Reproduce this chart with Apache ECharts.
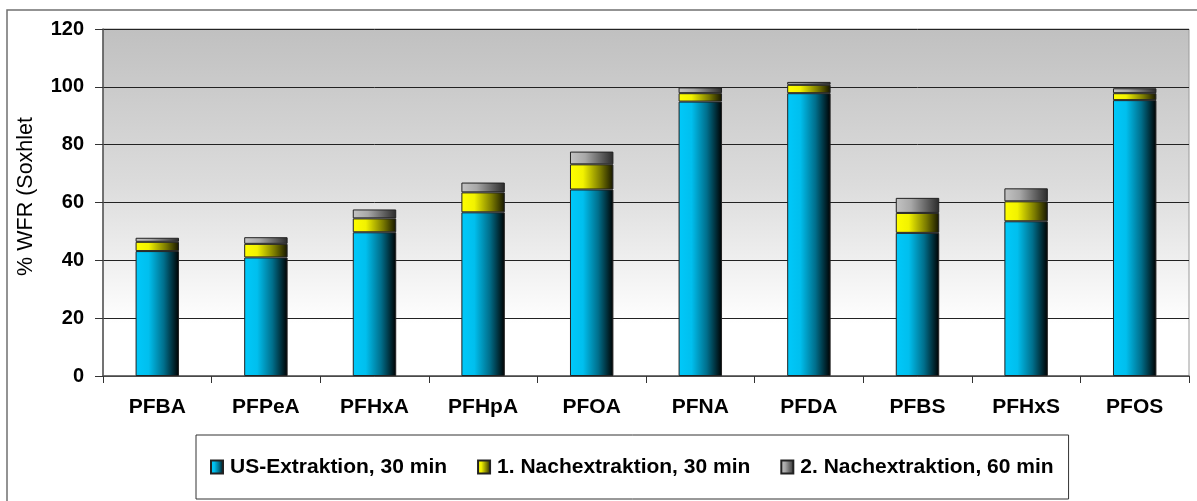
<!DOCTYPE html>
<html>
<head>
<meta charset="utf-8">
<script src="https://cdn.jsdelivr.net/npm/echarts@6/dist/echarts.min.js"></script>
<style>
  html, body { margin: 0; padding: 0; background: #fff; }
  #chart { width: 1197px; height: 501px; }
</style>
</head>
<body>
<div id="chart"></div>
<script>
// Substances on the category axis
const categories = ['PFBA', 'PFPeA', 'PFHxA', 'PFHpA', 'PFOA', 'PFNA', 'PFDA', 'PFBS', 'PFHxS', 'PFOS'];
// Recovery (% of Soxhlet) per extraction step, stacked
const usExtraktion = [43.2, 41.0, 49.7, 56.6, 64.5, 94.9, 97.8, 49.5, 53.5, 95.4];
const nachextraktion1 = [3.2, 4.7, 4.8, 6.9, 8.7, 2.9, 2.9, 6.9, 6.9, 2.4];
const nachextraktion2 = [1.4, 2.3, 3.1, 3.4, 4.4, 2.0, 1.0, 5.2, 4.5, 1.7];
const seriesNames = ['US-Extraktion, 30 min', '1. Nachextraktion, 30 min', '2. Nachextraktion, 60 min'];
const yTicks = { min: 0, max: 120, interval: 20 };
const yAxisTitle = '% WFR (Soxhlet';

const FONT = '"Liberation Sans", Arial, sans-serif';

function cylinder(stops) {
  return new echarts.graphic.LinearGradient(0, 0, 1, 0,
    stops.map(([offset, color]) => ({ offset, color })));
}

const blueFill = cylinder([[0, '#00c9fa'], [0.3, '#00bfee'], [0.65, '#006f8c'], [1, '#000000']]);
const yellowFill = cylinder([[0, '#ffff00'], [0.3, '#f2f200'], [0.7, '#7a7a00'], [1, '#141400']]);
const greyFill = cylinder([[0, '#c4c4c4'], [0.35, '#a8a8a8'], [0.75, '#5a5a5a'], [1, '#2a2a2a']]);

const chart = echarts.init(document.getElementById('chart'), null, { renderer: 'canvas' });

const barStyle = (fill) => ({ color: fill, borderColor: '#222', borderWidth: 1 });

chart.setOption({
  animation: false,
  backgroundColor: '#ffffff',
  graphic: [
    {
      // outer frame of the chart area
      type: 'rect',
      shape: { x: 7, y: 10, width: 1200, height: 500 },
      style: { fill: 'none', stroke: '#707070', lineWidth: 1.5 },
      z: -1
    },
    {
      type: 'text',
      left: 15, top: 117,
      rotation: Math.PI / 2,
      style: {
        text: yAxisTitle,
        font: '21.5px ' + FONT,
        fill: '#000'
      }
    }
  ],
  grid: {
    left: 103, right: 8, top: 29, bottom: 125,
    show: true,
    borderWidth: 1,
    borderColor: '#9a9a9a',
    backgroundColor: new echarts.graphic.LinearGradient(0, 0, 0, 1, [
      { offset: 0, color: '#c0c0c0' },
      { offset: 0.45, color: '#dcdcdc' },
      { offset: 0.85, color: '#ffffff' },
      { offset: 1, color: '#ffffff' }
    ])
  },
  legend: {
    data: seriesNames,
    left: 196, top: 435,
    padding: [20, 15, 20, 14],
    itemGap: 30,
    itemWidth: 12,
    itemHeight: 13,
    borderColor: '#333',
    borderWidth: 1,
    icon: 'rect',
    textStyle: {
      fontFamily: FONT,
      fontWeight: 'bold',
      fontSize: 21,
      lineHeight: 24,
      color: '#000',
      padding: [0, 0, 0, 2]
    }
  },
  xAxis: {
    type: 'category',
    data: categories,
    axisLine: { lineStyle: { color: '#555', width: 1.5 } },
    axisTick: { show: true, length: 7, lineStyle: { color: '#333' } },
    axisLabel: {
      margin: 21,
      fontFamily: FONT,
      fontWeight: 'bold',
      fontSize: 21,
      color: '#000'
    }
  },
  yAxis: {
    type: 'value',
    min: yTicks.min, max: yTicks.max, interval: yTicks.interval,
    axisLine: { show: true, lineStyle: { color: '#555', width: 1.5 } },
    axisTick: { show: true, length: 8, lineStyle: { color: '#333' } },
    splitLine: { lineStyle: { color: '#222', width: 1 } },
    axisLabel: {
      margin: 19,
      fontFamily: FONT,
      fontWeight: 'bold',
      fontSize: 20,
      color: '#000'
    }
  },
  series: [
    { name: seriesNames[0], type: 'bar', stack: 'wfr', data: usExtraktion, barWidth: '40%', itemStyle: barStyle(blueFill) },
    { name: seriesNames[1], type: 'bar', stack: 'wfr', data: nachextraktion1, barWidth: '40%', itemStyle: barStyle(yellowFill) },
    { name: seriesNames[2], type: 'bar', stack: 'wfr', data: nachextraktion2, barWidth: '40%', itemStyle: barStyle(greyFill) }
  ]
});
</script>
</body>
</html>
